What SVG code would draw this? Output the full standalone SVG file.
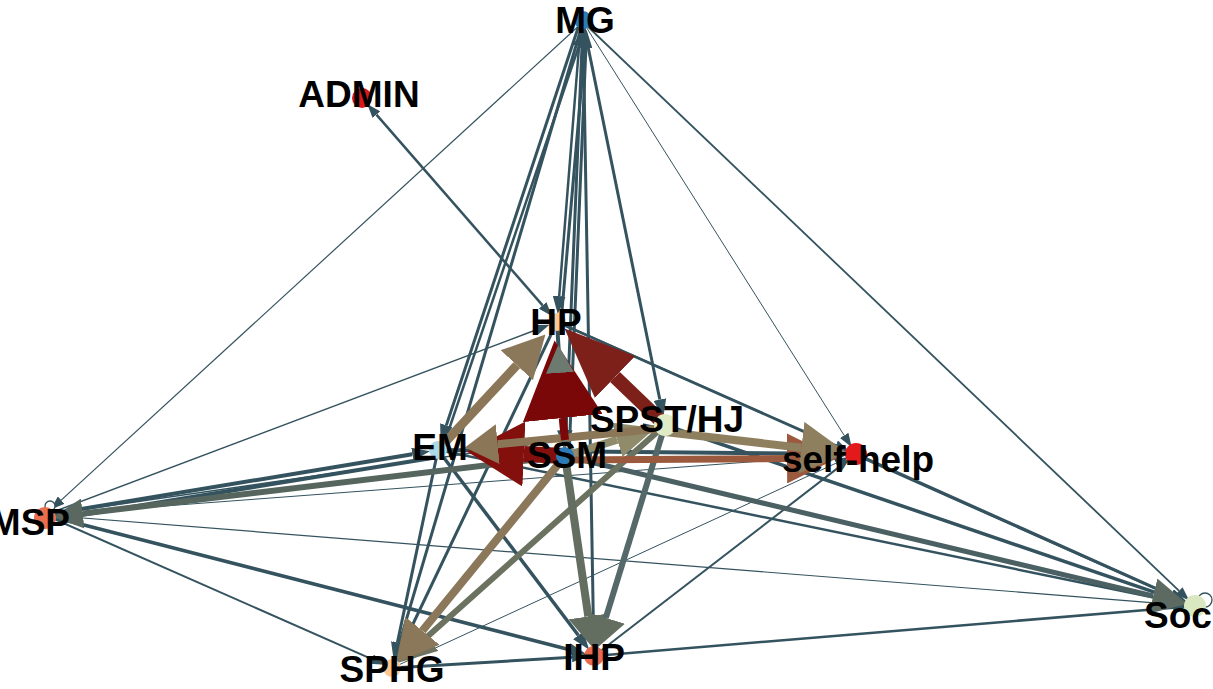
<svg xmlns="http://www.w3.org/2000/svg" width="1213" height="689" viewBox="0 0 1213 689">
<style>
.bg{fill:#ffffff}
.sl{stroke:#34535f;fill:none}
.lbl{font-family:"Liberation Sans",Arial,sans-serif;font-weight:bold;font-size:37px;fill:#000;text-anchor:middle}
.loop{fill:#ffffff;stroke:#34535f;stroke-width:1.3}
</style>
<defs>
<marker id="ms" viewBox="0 0 14 10" markerWidth="14" markerHeight="10" refX="0" refY="5" markerUnits="userSpaceOnUse" orient="auto-start-reverse"><path d="M0,0 L14,5 L0,10 z" fill="#34535f"/></marker>
<marker id="msm" viewBox="0 0 18 13" markerWidth="18" markerHeight="13" refX="0" refY="6.5" markerUnits="userSpaceOnUse" orient="auto-start-reverse"><path d="M0,0 L18,6.5 L0,13 z" fill="#34535f"/></marker>
<marker id="mgs" viewBox="0 0 35 36" markerWidth="35" markerHeight="36" refX="0" refY="18" markerUnits="userSpaceOnUse" orient="auto"><path d="M0,0 L35,18 L0,36 z" fill="#5d6a62"/></marker>
<marker id="mgg" viewBox="0 0 30 30" markerWidth="30" markerHeight="30" refX="0" refY="15" markerUnits="userSpaceOnUse" orient="auto"><path d="M0,0 L30,15 L0,30 z" fill="#5a6860"/></marker>
<marker id="mol" viewBox="0 0 38 36" markerWidth="38" markerHeight="36" refX="0" refY="18" markerUnits="userSpaceOnUse" orient="auto"><path d="M0,0 L38,18 L0,36 z" fill="#6b7360"/></marker>
<marker id="mtan" viewBox="0 0 42 44" markerWidth="42" markerHeight="44" refX="0" refY="22" markerUnits="userSpaceOnUse" orient="auto"><path d="M0,0 L42,22 L0,44 z" fill="#8b7759"/></marker>
<marker id="mgi" viewBox="0 0 32 40" markerWidth="32" markerHeight="40" refX="0" refY="20" markerUnits="userSpaceOnUse" orient="auto"><path d="M0,0 L32,20 L0,40 z" fill="#646e60"/></marker>
<marker id="mbr" viewBox="0 0 50 50" markerWidth="50" markerHeight="50" refX="0" refY="25" markerUnits="userSpaceOnUse" orient="auto"><path d="M0,0 L50,25 L0,50 z" fill="#9b5a3e"/></marker>
<marker id="mtanL" viewBox="0 0 46 52" markerWidth="46" markerHeight="52" refX="0" refY="26" markerUnits="userSpaceOnUse" orient="auto"><path d="M0,0 L46,26 L0,52 z" fill="#8e7f5f"/></marker>
<marker id="mkh" viewBox="0 0 40 36" markerWidth="40" markerHeight="36" refX="0" refY="18" markerUnits="userSpaceOnUse" orient="auto"><path d="M0,0 L40,18 L0,36 z" fill="#8f8b6b"/></marker>
<marker id="mdr2" viewBox="0 0 57 65" markerWidth="57" markerHeight="65" refX="0" refY="32.5" markerUnits="userSpaceOnUse" orient="auto"><path d="M0,0 L57,32.5 L0,65 z" fill="#84100e"/></marker>
<marker id="mtan2" viewBox="0 0 33 40" markerWidth="33" markerHeight="40" refX="0" refY="20" markerUnits="userSpaceOnUse" orient="auto"><path d="M0,0 L33,20 L0,40 z" fill="#8b7657"/></marker>
<marker id="mrb" viewBox="0 0 70 58" markerWidth="70" markerHeight="58" refX="0" refY="29" markerUnits="userSpaceOnUse" orient="auto"><path d="M0,0 L70,29 L0,58 z" fill="#7d2019"/></marker>
<marker id="mdr" viewBox="0 0 78 80" markerWidth="78" markerHeight="80" refX="0" refY="40" markerUnits="userSpaceOnUse" orient="auto"><path d="M0,0 L78,40 L0,80 z" fill="#7a0808"/></marker>
<marker id="mgs2" viewBox="0 0 28 28" markerWidth="28" markerHeight="28" refX="0" refY="14" markerUnits="userSpaceOnUse" orient="auto"><path d="M0,0 L28,14 L0,28 z" fill="#6d7a70"/></marker>
</defs>
<rect class="bg" x="0" y="0" width="1213" height="689"/>
<g id="connectors">
<line class="sl" x1="583" y1="22" x2="61.2" y2="500.1" stroke-width="1.2" marker-end="url(#ms)"/>
<line class="sl" x1="581" y1="22" x2="559.2" y2="296.1" stroke-width="2.5" marker-end="url(#msm)"/>
<line class="sl" x1="561" y1="322" x2="584.8" y2="47.9" stroke-width="3" marker-end="url(#msm)"/>
<line class="sl" x1="376.4" y1="114.6" x2="542.6" y2="305.4" stroke-width="2.5" marker-start="url(#ms)" marker-end="url(#ms)"/>
<line class="sl" x1="580" y1="22" x2="446.3" y2="425.4" stroke-width="3" marker-end="url(#msm)"/>
<line class="sl" x1="442" y1="450" x2="578.7" y2="46.6" stroke-width="2.5" marker-end="url(#msm)"/>
<line class="sl" x1="583" y1="22" x2="399.4" y2="643.1" stroke-width="3" marker-end="url(#msm)"/>
<line class="sl" x1="583" y1="22" x2="566.1" y2="430" stroke-width="3" marker-end="url(#msm)"/>
<line class="sl" x1="569" y1="456" x2="585.9" y2="48" stroke-width="3" marker-end="url(#msm)"/>
<line class="sl" x1="583" y1="22" x2="593.5" y2="630" stroke-width="3" marker-end="url(#msm)"/>
<line class="sl" x1="583" y1="22" x2="659.8" y2="399.5" stroke-width="3" marker-end="url(#msm)"/>
<line class="sl" x1="583" y1="22" x2="844.2" y2="435.4" stroke-width="1" marker-end="url(#ms)"/>
<line class="sl" x1="583" y1="22" x2="1179.1" y2="590.8" stroke-width="1.8" marker-end="url(#ms)"/>
<line class="sl" x1="45" y1="515" x2="536.4" y2="329.8" stroke-width="1.5" marker-end="url(#ms)"/>
<line class="sl" x1="45" y1="515" x2="412.3" y2="454.2" stroke-width="4" marker-end="url(#msm)"/>
<line class="sl" x1="438" y1="457" x2="70.7" y2="516.8" stroke-width="4" marker-end="url(#msm)"/>
<line class="sl" x1="45" y1="515" x2="834.1" y2="455.6" stroke-width="1" marker-end="url(#ms)"/>
<line class="sl" x1="45" y1="515" x2="1173.1" y2="604.3" stroke-width="1.2" marker-end="url(#ms)"/>
<line class="sl" x1="45" y1="515" x2="568.8" y2="649.5" stroke-width="3.5" marker-end="url(#msm)"/>
<line class="sl" x1="45" y1="515" x2="371.9" y2="659.1" stroke-width="2" marker-end="url(#ms)"/>
<line class="sl" x1="45" y1="515" x2="643.2" y2="428.2" stroke-width="1.5" marker-end="url(#ms)"/>
<line class="sl" x1="557" y1="322" x2="835.9" y2="445.1" stroke-width="2" marker-end="url(#ms)"/>
<line class="sl" x1="557" y1="322" x2="1171.2" y2="595.4" stroke-width="2.5" marker-end="url(#msm)"/>
<line class="sl" x1="557" y1="322" x2="563.5" y2="430" stroke-width="4" marker-end="url(#msm)"/>
<line class="sl" x1="438" y1="450" x2="578.3" y2="635.3" stroke-width="3.5" marker-end="url(#msm)"/>
<line class="sl" x1="438" y1="450" x2="397.4" y2="642.6" stroke-width="3" marker-end="url(#msm)"/>
<line class="sl" x1="557" y1="322" x2="403.2" y2="644.5" stroke-width="3" marker-end="url(#msm)"/>
<line class="sl" x1="438" y1="450" x2="1169.5" y2="600.8" stroke-width="2.5" marker-end="url(#msm)"/>
<line class="sl" x1="665" y1="425" x2="1170.4" y2="597.6" stroke-width="3.5" marker-end="url(#msm)"/>
<line class="sl" x1="856" y1="454" x2="1171.3" y2="595.4" stroke-width="3" marker-end="url(#msm)"/>
<line class="sl" x1="594" y1="656" x2="1173.1" y2="607.8" stroke-width="2.5" marker-end="url(#ms)"/>
<line class="sl" x1="392" y1="668" x2="572" y2="657.3" stroke-width="3" marker-end="url(#ms)"/>
<line class="sl" x1="392" y1="668" x2="836" y2="463.2" stroke-width="1" marker-end="url(#ms)"/>
<line class="sl" x1="594" y1="656" x2="838.6" y2="467.4" stroke-width="2" marker-end="url(#ms)"/>
<line class="sl" x1="438" y1="450" x2="830" y2="453.8" stroke-width="4" marker-end="url(#msm)"/>
<line x1="565" y1="456" x2="1153.2" y2="596" stroke="#4b6062" stroke-width="5" marker-end="url(#mgs)"/>
<line x1="565" y1="456" x2="82.7" y2="513.5" stroke="#56665e" stroke-width="6" marker-end="url(#mgg)"/>
<line x1="665" y1="425" x2="426.4" y2="637.4" stroke="#6b7360" stroke-width="6" marker-end="url(#mol)"/>
<line x1="565" y1="456" x2="422.4" y2="630.8" stroke="#8b7759" stroke-width="8" marker-end="url(#mtan)"/>
<line x1="565" y1="456" x2="588.3" y2="616.4" stroke="#646e60" stroke-width="8" marker-end="url(#mgi)"/>
<line x1="665" y1="425" x2="605.8" y2="617.8" stroke="#55686a" stroke-width="6" marker-end="url(#mgi)"/>
<line x1="565" y1="460" x2="787" y2="458.5" stroke="#9b5a3e" stroke-width="7" marker-end="url(#mbr)"/>
<line x1="665" y1="432" x2="801.4" y2="447.7" stroke="#8e7f5f" stroke-width="8" marker-end="url(#mtanL)"/>
<line x1="565" y1="456" x2="617.2" y2="439.8" stroke="#8f8b6b" stroke-width="8" marker-end="url(#mkh)"/>
<line x1="565" y1="456" x2="523.9" y2="454.1" stroke="#84100e" stroke-width="16" marker-end="url(#mdr2)"/>
<line x1="665" y1="428" x2="497.7" y2="444.2" stroke="#8b7657" stroke-width="8" marker-end="url(#mtan2)"/>
<line x1="665" y1="425" x2="615" y2="377" stroke="#7d2019" stroke-width="14" marker-end="url(#mrb)"/>
<line x1="438" y1="450" x2="516.8" y2="365.2" stroke="#8b7657" stroke-width="9" marker-end="url(#mtan)"/>
<line x1="565" y1="456" x2="560.5" y2="380" stroke="#6d7a70" stroke-width="3"/>
<line x1="565" y1="440" x2="562.7" y2="418" stroke="#7a0808" stroke-width="8" marker-end="url(#mdr)"/>
<line x1="560.2" y1="376" x2="560" y2="372.9" stroke="none" marker-end="url(#mgs2)"/>
<circle class="loop" cx="50" cy="506" r="5"/>
<circle class="loop" cx="1205" cy="600" r="7"/>
</g>
<g id="node-MG"><circle cx="583" cy="20" r="9" fill="#2b7bb9"/><text class="lbl" x="585" y="33">MG</text></g>
<g id="node-ADMIN"><circle cx="362" cy="98" r="10" fill="#d7191c"/><text class="lbl" x="359" y="107">ADMIN</text></g>
<g id="node-HP"><circle cx="557" cy="322" r="9" fill="#fdc794"/><text class="lbl" x="556" y="335">HP</text></g>
<g id="node-EM"><circle cx="438" cy="450" r="9" fill="#abd9e9"/><text class="lbl" x="440" y="460">EM</text></g>
<g id="node-SSM"><circle cx="565" cy="456" r="9" fill="#2c7bb6"/><text class="lbl" x="567" y="468">SSM</text></g>
<g id="node-SPSTHJ"><circle cx="665" cy="425" r="11" fill="#e0ebc6"/><text class="lbl" x="667" y="432">SPST/HJ</text></g>
<g id="node-selfhelp"><circle cx="856" cy="454" r="11" fill="#e31a1c"/><text class="lbl" x="858" y="472">self-help</text></g>
<g id="node-MSP"><circle cx="45" cy="518" r="11" fill="#e8704f"/><text class="lbl" x="70" y="535" style="text-anchor:end">MSP</text></g>
<g id="node-SPHG"><circle cx="392" cy="668" r="9" fill="#fdc794"/><text class="lbl" x="392" y="682">SPHG</text></g>
<g id="node-IHP"><circle cx="594" cy="656" r="10" fill="#ea6a4f"/><text class="lbl" x="594" y="670">IHP</text></g>
<g id="node-Soc"><circle cx="1195" cy="606" r="11" fill="#d9e8c0"/><text class="lbl" x="1178" y="628">Soc</text></g>
</svg>
